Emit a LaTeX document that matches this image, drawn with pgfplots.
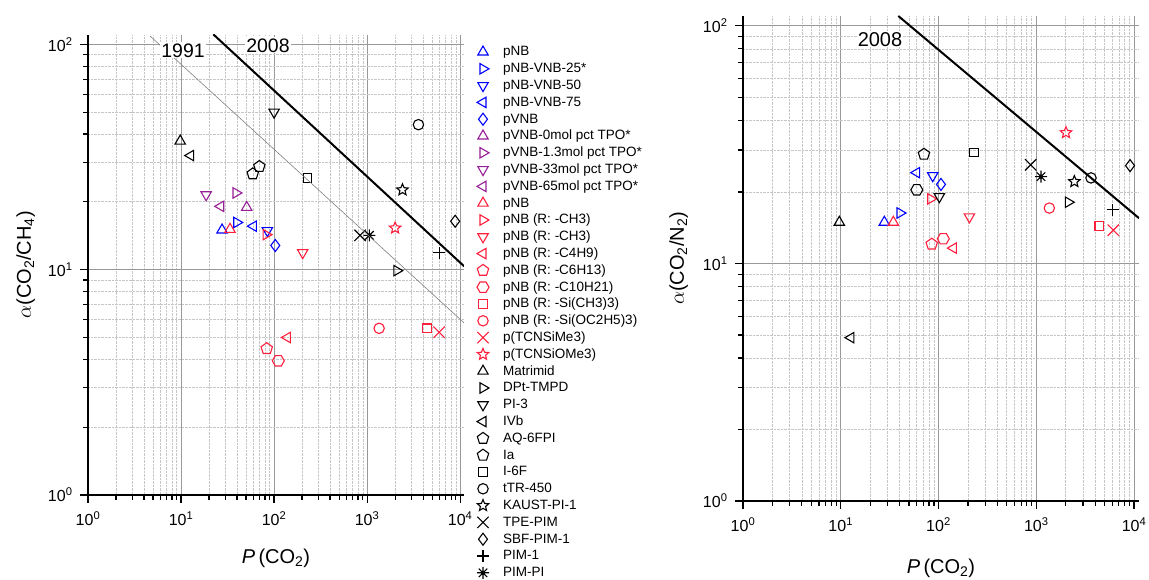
\documentclass[border=0pt]{standalone}
\usepackage{pgfplots}
\pgfplotsset{compat=1.18}
\usepackage{fontspec}
\setmainfont{Liberation Sans}
\definecolor{cblue}{RGB}{0,0,255}
\definecolor{cpurp}{RGB}{150,30,150}
\definecolor{cred}{RGB}{255,30,60}

\pgfdeclareplotmark{hexagon}{%
  \pgfpathmoveto{\pgfpointpolar{0}{\pgfplotmarksize}}%
  \pgfpathlineto{\pgfpointpolar{60}{\pgfplotmarksize}}%
  \pgfpathlineto{\pgfpointpolar{120}{\pgfplotmarksize}}%
  \pgfpathlineto{\pgfpointpolar{180}{\pgfplotmarksize}}%
  \pgfpathlineto{\pgfpointpolar{240}{\pgfplotmarksize}}%
  \pgfpathlineto{\pgfpointpolar{300}{\pgfplotmarksize}}%
  \pgfpathclose\pgfusepathqstroke}
\pgfdeclareplotmark{ostar}{%
  \pgfpathmoveto{\pgfpointpolar{90}{\pgfplotmarksize}}%
  \pgfpathlineto{\pgfpointpolar{126}{0.45*\pgfplotmarksize}}%
  \pgfpathlineto{\pgfpointpolar{162}{\pgfplotmarksize}}%
  \pgfpathlineto{\pgfpointpolar{198}{0.45*\pgfplotmarksize}}%
  \pgfpathlineto{\pgfpointpolar{234}{\pgfplotmarksize}}%
  \pgfpathlineto{\pgfpointpolar{270}{0.45*\pgfplotmarksize}}%
  \pgfpathlineto{\pgfpointpolar{306}{\pgfplotmarksize}}%
  \pgfpathlineto{\pgfpointpolar{342}{0.45*\pgfplotmarksize}}%
  \pgfpathlineto{\pgfpointpolar{18}{\pgfplotmarksize}}%
  \pgfpathlineto{\pgfpointpolar{54}{0.45*\pgfplotmarksize}}%
  \pgfpathclose\pgfusepathqstroke}
\pgfdeclareplotmark{ast8}{%
  \pgfpathmoveto{\pgfqpoint{-\pgfplotmarksize}{0pt}}\pgfpathlineto{\pgfqpoint{\pgfplotmarksize}{0pt}}%
  \pgfpathmoveto{\pgfqpoint{0pt}{-\pgfplotmarksize}}\pgfpathlineto{\pgfqpoint{0pt}{\pgfplotmarksize}}%
  \pgfpathmoveto{\pgfqpoint{-.7071\pgfplotmarksize}{-.7071\pgfplotmarksize}}\pgfpathlineto{\pgfqpoint{.7071\pgfplotmarksize}{.7071\pgfplotmarksize}}%
  \pgfpathmoveto{\pgfqpoint{-.7071\pgfplotmarksize}{.7071\pgfplotmarksize}}\pgfpathlineto{\pgfqpoint{.7071\pgfplotmarksize}{-.7071\pgfplotmarksize}}%
  \pgfusepathqstroke
  \pgfpathcircle{\pgfpointorigin}{0.25\pgfplotmarksize}\pgfusepathqfillstroke}

\tikzset{
  TU/.style={mark=triangle},
  TD/.style={mark=triangle, mark options={rotate=180}},
  TL/.style={mark=triangle, mark options={rotate=90}},
  TR/.style={mark=triangle, mark options={rotate=-90}},
  SQ/.style={mark=square, mark size=4.3pt},
  CI/.style={mark=o, mark size=5.2pt},
  XX/.style={mark=x, mark size=8pt},
}

\begin{document}
\begin{tikzpicture}
\useasboundingbox (0,0) rectangle (1149pt,580pt);
% ---------------- left axis ----------------
\begin{axis}[
  at={(88pt,85pt)}, anchor=south west, width=376pt, height=460pt,
  scale only axis, xmode=log, ymode=log, xmin=1, xmax=11000, ymin=1, ymax=110,
  axis x line*=bottom, axis y line*=left,
  axis line style={line width=1.6pt},
  tick align=outside,
  major tick length=8pt, minor tick length=5pt,
  every tick/.style={black, line width=1.2pt},
  grid=both,
  major grid style={gray!80, line width=0.8pt},
  minor grid style={gray!45, densely dotted, line width=0.7pt},
  xtick={1,10,100,1000,10000},
  xticklabels={10\textsuperscript{0},10\textsuperscript{1},10\textsuperscript{2},10\textsuperscript{3},10\textsuperscript{4}},
  minor xtick={2,3,4,5,6,7,8,9,20,30,40,50,60,70,80,90,200,300,400,500,600,700,800,900,2000,3000,4000,5000,6000,7000,8000,9000},
  ytick={1,10,100},
  yticklabels={10\textsuperscript{0},10\textsuperscript{1},10\textsuperscript{2}},
  minor ytick={2,3,4,5,6,7,8,9,20,30,40,50,60,70,80,90},
  tick label style={font=\fontsize{16}{18}\selectfont},
  xticklabel style={yshift=-5pt},
  yticklabel style={xshift=-4pt},
  label style={font=\fontsize{20}{24}\selectfont},
  xlabel={\textit{P}\,(CO\textsubscript{2})},
  ylabel={$\alpha$(CO\textsubscript{2}/CH\textsubscript{4})},
  xlabel style={yshift=-16pt},
  ylabel style={yshift=6pt},
  clip mode=individual,
  every axis plot/.append style={only marks, line width=1.1pt, mark size=6pt},
  legend image code/.code={\path[draw=none,fill=none] (-6.6pt,-6.6pt) rectangle (6.6pt,6.6pt); \draw[#1] plot coordinates {(0pt,0pt)};},
  legend style={at={(1.033,0.9774)}, anchor=north west, draw=none, fill=none,
    inner sep=0pt, outer sep=0pt, row sep=3.6pt, column sep=13.4pt,
    font=\fontsize{13.5}{15}\selectfont,
    nodes={inner sep=0pt, text height=9.5pt, text depth=1.5pt}},
  legend cell align=left,
]
\addplot[cblue, TU] coordinates {(27.6,15.0)}; \addlegendentry{pNB}
\addplot[cblue, TR] coordinates {(39.7,16.2)}; \addlegendentry{pNB-VNB-25*}
\addplot[cblue, TD] coordinates {(84.7,14.9)}; \addlegendentry{pNB-VNB-50}
\addplot[cblue, TL] coordinates {(60,15.6)}; \addlegendentry{pNB-VNB-75}
\addplot[cblue, mark=diamond] coordinates {(103,12.8)}; \addlegendentry{pVNB}
\addplot[cpurp, TU] coordinates {(50.8,18.9)}; \addlegendentry{pVNB-0mol pct TPO*}
\addplot[cpurp, TR] coordinates {(39,21.9)}; \addlegendentry{pVNB-1.3mol pct TPO*}
\addplot[cpurp, TD] coordinates {(18.6,21.5)}; \addlegendentry{pVNB-33mol pct TPO*}
\addplot[cpurp, TL] coordinates {(26.7,19.1)}; \addlegendentry{pVNB-65mol pct TPO*}
\addplot[cred, TU] coordinates {(33.6,15.1)}; \addlegendentry{pNB}
\addplot[cred, TR] coordinates {(82,14.3)}; \addlegendentry{pNB (R: -CH3)}
\addplot[cred, TD] coordinates {(203,11.9)}; \addlegendentry{pNB (R: -CH3)}
\addplot[cred, TL] coordinates {(139,5.0)}; \addlegendentry{pNB (R: -C4H9)}
\addplot[cred, mark=pentagon] coordinates {(83.4,4.46)}; \addlegendentry{pNB (R: -C6H13)}
\addplot[cred, mark=hexagon] coordinates {(111,3.94)}; \addlegendentry{pNB (R: -C10H21)}
\addplot[cred, SQ] coordinates {(4385,5.49)}; \addlegendentry{pNB (R: -Si(CH3)3)}
\addplot[cred, CI] coordinates {(1346,5.49)}; \addlegendentry{pNB (R: -Si(OC2H5)3)}
\addplot[cred, XX] coordinates {(5943,5.28)}; \addlegendentry{p(TCNSiMe3)}
\addplot[cred, mark=ostar] coordinates {(2000,15.3)}; \addlegendentry{p(TCNSiOMe3)}
\addplot[black, TU] coordinates {(9.8,37.2)}; \addlegendentry{Matrimid}
\addplot[black, TR] coordinates {(2086,9.9)}; \addlegendentry{DPt-TMPD}
\addplot[black, TD] coordinates {(100,50)}; \addlegendentry{PI-3}
\addplot[black, TL] coordinates {(12.7,32.1)}; \addlegendentry{IVb}
\addplot[black, mark=pentagon] coordinates {(59,26.6)}; \addlegendentry{AQ-6FPI}
\addplot[black, mark=pentagon] coordinates {(69.5,28.7)}; \addlegendentry{Ia}
\addplot[black, SQ] coordinates {(228,25.5)}; \addlegendentry{I-6F}
\addplot[black, CI] coordinates {(3562,44)}; \addlegendentry{tTR-450}
\addplot[black, mark=ostar] coordinates {(2400,22.6)}; \addlegendentry{KAUST-PI-1}
\addplot[black, XX] coordinates {(841,14.2)}; \addlegendentry{TPE-PIM}
\addplot[black, mark=diamond] coordinates {(8835,16.4)}; \addlegendentry{SBF-PIM-1}
\addplot[black, mark=+] coordinates {(5995,11.9)}; \addlegendentry{PIM-1}
\addplot[black, mark=ast8] coordinates {(1059,14.2)}; \addlegendentry{PIM-PI}
% upper bounds
\addplot[sharp plot, no marks, gray, line width=0.6pt, forget plot] coordinates {(4.64,108.9) (11000,5.81)};
\addplot[sharp plot, no marks, black, line width=2pt, forget plot] coordinates {(22.2,110.8) (11040,10.35)};
\node[fill=white, inner sep=1pt, font=\fontsize{19.5}{22}\selectfont] at (axis cs:10.5,94) {1991};
\node[fill=white, inner sep=1pt, font=\fontsize{19.5}{22}\selectfont] at (axis cs:86,99) {2008};
\end{axis}
% ---------------- right axis ----------------
\begin{axis}[
  at={(743pt,79pt)}, anchor=south west, width=396pt, height=485pt,
  scale only axis, xmode=log, ymode=log, xmin=1, xmax=11250, ymin=1, ymax=110,
  axis x line*=bottom, axis y line*=left,
  axis line style={line width=1.6pt},
  tick align=outside,
  major tick length=8pt, minor tick length=5pt,
  every tick/.style={black, line width=1.2pt},
  grid=both,
  major grid style={gray!80, line width=0.8pt},
  minor grid style={gray!45, densely dotted, line width=0.7pt},
  xtick={1,10,100,1000,10000},
  xticklabels={10\textsuperscript{0},10\textsuperscript{1},10\textsuperscript{2},10\textsuperscript{3},10\textsuperscript{4}},
  minor xtick={2,3,4,5,6,7,8,9,20,30,40,50,60,70,80,90,200,300,400,500,600,700,800,900,2000,3000,4000,5000,6000,7000,8000,9000},
  ytick={1,10,100},
  yticklabels={10\textsuperscript{0},10\textsuperscript{1},10\textsuperscript{2}},
  minor ytick={2,3,4,5,6,7,8,9,20,30,40,50,60,70,80,90},
  tick label style={font=\fontsize{16}{18}\selectfont},
  xticklabel style={yshift=-5pt},
  yticklabel style={xshift=-4pt},
  label style={font=\fontsize{20}{24}\selectfont},
  xlabel={\textit{P}\,(CO\textsubscript{2})},
  ylabel={$\alpha$(CO\textsubscript{2}/N\textsubscript{2})},
  xlabel style={yshift=-20pt},
  ylabel style={yshift=8pt},
  clip mode=individual,
  every axis plot/.append style={only marks, line width=1.1pt, mark size=6pt},
]
\addplot[cblue, TU] coordinates {(27.9,14.9)};
\addplot[cblue, TR] coordinates {(40.4,16.3)};
\addplot[cblue, TD] coordinates {(87.2,23.4)};
\addplot[cblue, TL] coordinates {(59.8,24.1)};
\addplot[cblue, mark=diamond] coordinates {(106,21.5)};
\addplot[cred, TU] coordinates {(34.5,14.9)};
\addplot[cred, TR] coordinates {(83.2,18.7)};
\addplot[cred, TD] coordinates {(207,15.7)};
\addplot[cred, TL] coordinates {(142,11.6)};
\addplot[cred, mark=pentagon] coordinates {(85.2,12.05)};
\addplot[cred, mark=hexagon] coordinates {(112,12.7)};
\addplot[cred, SQ] coordinates {(4417,14.4)};
\addplot[cred, CI] coordinates {(1360,17.1)};
\addplot[cred, XX] coordinates {(6140,13.8)};
\addplot[cred, mark=ostar] coordinates {(2015,35.5)};
\addplot[black, TU] coordinates {(9.67,14.9)};
\addplot[black, TR] coordinates {(2128,18.1)};
\addplot[black, TD] coordinates {(102,19.1)};
\addplot[black, TL] coordinates {(12.7,4.87)};
\addplot[black, mark=hexagon] coordinates {(60,20.4)};
\addplot[black, mark=pentagon] coordinates {(71,28.8)};
\addplot[black, SQ] coordinates {(231,29.3)};
\addplot[black, CI] coordinates {(3631,22.9)};
\addplot[black, mark=ostar] coordinates {(2453,22.1)};
\addplot[black, XX] coordinates {(877,26.0)};
\addplot[black, mark=diamond] coordinates {(9105,25.8)};
\addplot[black, mark=+] coordinates {(6050,16.8)};
\addplot[black, mark=ast8] coordinates {(1119,23.2)};
\addplot[sharp plot, no marks, black, line width=2pt] coordinates {(38.8,110) (11250,15.5)};
\node[fill=white, inner sep=1pt, font=\fontsize{20}{22}\selectfont] at (axis cs:25.2,87.9) {2008};
\end{axis}
\end{tikzpicture}
\end{document}
